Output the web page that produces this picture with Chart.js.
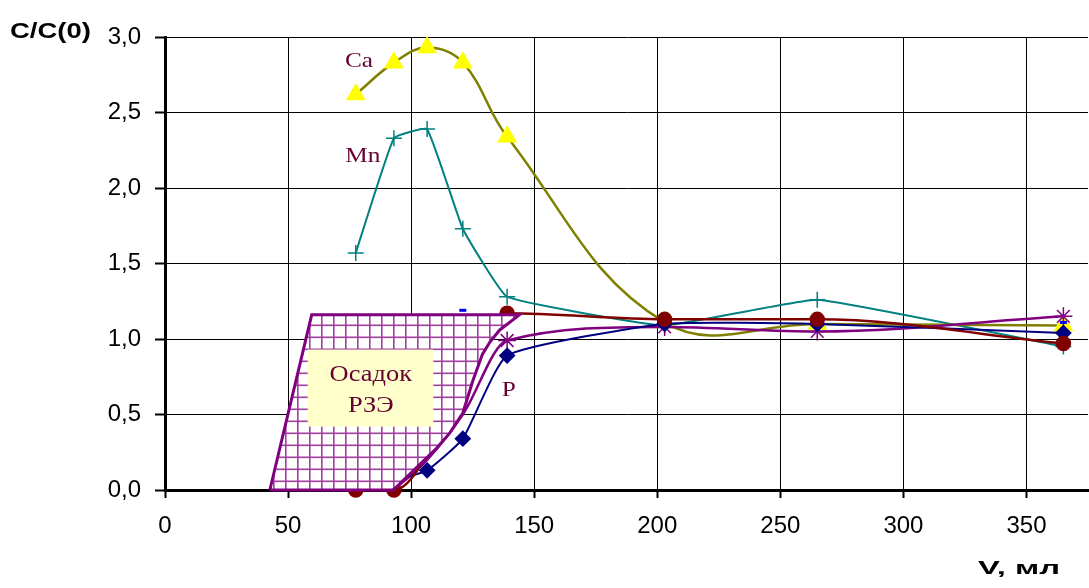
<!DOCTYPE html>
<html>
<head>
<meta charset="utf-8">
<script src="https://cdn.jsdelivr.net/npm/chart.js"></script>
<style>
  body { margin: 0; background: #fff; overflow: hidden; }
  #wrap { width: 1089px; height: 588px; }
  canvas { display: block; }
</style>
</head>
<body>
<div id="wrap"><canvas id="chart" width="1089" height="588"></canvas></div>
<script>
// объём пропущенного раствора, мл
const volumes = [77.5, 93, 106.5, 121, 139, 203, 265, 365];
const caValues = [2.62, 2.83, 2.93, 2.83, 2.34, 1.11, 1.10, 1.09];
const mnValues = [1.57, 2.33, 2.39, 1.73, 1.28, 1.09, 1.26, 0.95];

const pVolumes = [93, 106.5, 121, 139, 203, 265, 365];
const pValues = [0.06, 0.13, 0.34, 0.89, 1.10, 1.10, 1.04];

const redVolumes = [77.5, 93, 139, 203, 265, 365];
const redValues = [0, 0, 1.17, 1.13, 1.13, 0.97];

const purpleVolumes = [93, 106.5, 121, 139, 203, 265, 365];
const purpleValues = [0, 0.20, 0.50, 0.99, 1.08, 1.05, 1.15];

const blueVolumes = [121, 203, 265, 365];
const blueValues = [1.19, 1.13, 1.14, 1.11];

// контур области "Осадок РЗЭ"
const sedimentV = [42.6, 59.6, 144, 136, 132, 129, 125, 121, 115.8, 110.5, 102.3, 94, 92.6, 42.6];
const sedimentC = [0, 1.16, 1.16, 1.06, 0.98, 0.90, 0.72, 0.51, 0.38, 0.28, 0.15, 0.02, 0, 0];

const xTickValues = [0, 50, 100, 150, 200, 250, 300, 350];
const yTickValues = [0, 0.5, 1, 1.5, 2, 2.5, 3];

function pts(xs, ys) {
  return xs.map((x, i) => ({ x: x, y: ys[i] }));
}

// штриховка сеткой
const hatch = document.createElement('canvas');
hatch.width = 12; hatch.height = 12;
const hg = hatch.getContext('2d');
hg.fillStyle = '#fff';
hg.fillRect(0, 0, 12, 12);
hg.fillStyle = '#a040a0';
hg.fillRect(9, 0, 1.6, 12);
hg.fillRect(0, 0.5, 12, 1.6);
const ctx = document.getElementById('chart').getContext('2d');
const hatchPattern = ctx.createPattern(hatch, 'repeat');

function stretchText(c, text, x, y, font, sx, color, align) {
  c.save();
  c.font = font;
  c.fillStyle = color;
  c.textAlign = align || 'center';
  c.textBaseline = 'middle';
  c.translate(x, y);
  c.scale(sx, 1);
  c.fillText(text, 0, 0);
  c.restore();
}

const sedimentFill = {
  id: 'sedimentFill',
  beforeDatasetDraw(chart, args) {
    if (chart.data.datasets[args.index].label !== 'Осадок РЗЭ') return;
    const p = args.meta.data;
    const c = chart.ctx;
    c.save();
    c.beginPath();
    p.forEach((pt, i) => i ? c.lineTo(pt.x, pt.y) : c.moveTo(pt.x, pt.y));
    c.closePath();
    c.fillStyle = hatchPattern;
    c.fill();
    c.restore();
  }
};

const labelColor = '#660033';
const annotations = {
  id: 'annotations',
  afterDatasetsDraw(chart) {
    const c = chart.ctx;
    const xs = chart.scales.x, ys = chart.scales.y;
    // подпись области
    const l = xs.getPixelForValue(58), r = xs.getPixelForValue(109);
    const t = ys.getPixelForValue(0.93), b = ys.getPixelForValue(0.42);
    c.save();
    c.fillStyle = '#ffffcc';
    c.fillRect(l, t, r - l, b - t);
    c.restore();
    const serif = '23px "Liberation Serif", "Times New Roman", serif';
    stretchText(c, 'Осадок', xs.getPixelForValue(83.6), ys.getPixelForValue(0.76), serif, 1.15, labelColor);
    stretchText(c, 'РЗЭ', xs.getPixelForValue(83.6), ys.getPixelForValue(0.555), serif, 1.15, labelColor);
    stretchText(c, 'Ca', xs.getPixelForValue(78.8), ys.getPixelForValue(2.84), '22px "Liberation Serif", serif', 1.15, labelColor);
    stretchText(c, 'Mn', xs.getPixelForValue(80.4), ys.getPixelForValue(2.21), '22px "Liberation Serif", serif', 1.15, labelColor);
    stretchText(c, 'P', xs.getPixelForValue(139.7), ys.getPixelForValue(0.66), '22px "Liberation Serif", serif', 1.15, labelColor);
  },
  afterDraw(chart) {
    const c = chart.ctx;
    stretchText(c, 'C/C(0)', 10, 32, 'bold 22px "Liberation Sans", Arial, sans-serif', 1.25, '#000', 'left');
    c.save();
    c.font = 'bold 19px "Liberation Sans", Arial, sans-serif';
    const w = c.measureText('V, мл').width;
    c.restore();
    stretchText(c, 'V, мл', 978, 569, 'bold 19px "Liberation Sans", Arial, sans-serif', 82 / w, '#000', 'left');
  }
};

Chart.defaults.font.family = '"Liberation Sans", Arial, sans-serif';
Chart.defaults.color = '#000';

new Chart(ctx, {
  type: 'scatter',
  data: {
    datasets: [
      {
        label: 'Осадок РЗЭ',
        data: pts(sedimentV, sedimentC),
        showLine: true,
        borderColor: '#800080',
        borderWidth: 3,
        pointRadius: 0,
        tension: 0,
        clip: false,
        order: 1
      },
      {
        label: 'ряд 4',
        data: pts(redVolumes, redValues),
        showLine: true,
        borderColor: '#800000',
        borderWidth: 2.5,
        pointStyle: 'circle',
        pointRadius: 6.5,
        pointBackgroundColor: '#800000',
        pointBorderColor: '#800000',
        cubicInterpolationMode: 'monotone',
        clip: false,
        order: 2
      },
      {
        label: 'ряд 6',
        data: pts(blueVolumes, blueValues),
        showLine: false,
        pointStyle: 'line',
        pointRadius: 3.5,
        pointBorderWidth: 3,
        pointBorderColor: '#0000ff',
        borderColor: '#0000ff',
        clip: false,
        order: 2
      },
      {
        label: 'P',
        data: pts(pVolumes, pValues),
        showLine: true,
        borderColor: '#000080',
        borderWidth: 2,
        pointStyle: 'rectRot',
        pointRadius: [0, 7, 7, 7, 7, 7, 7],
        pointBackgroundColor: '#000080',
        pointBorderColor: '#000080',
        tension: 0.15,
        clip: false,
        order: 3
      },
      {
        label: 'ряд 5',
        data: pts(purpleVolumes, purpleValues),
        showLine: true,
        borderColor: '#800080',
        borderWidth: 2.5,
        pointStyle: 'star',
        pointRadius: [0, 0, 0, 9, 9, 9, 9],
        pointBorderColor: '#800080',
        pointBorderWidth: 1.5,
        cubicInterpolationMode: 'monotone',
        clip: false,
        order: 4
      },
      {
        label: 'Ca',
        data: pts(volumes, caValues),
        showLine: true,
        borderColor: '#808000',
        borderWidth: 2.5,
        pointStyle: 'triangle',
        pointRadius: 9,
        pointBackgroundColor: '#ffff00',
        pointBorderColor: '#ffff00',
        tension: 0.4,
        clip: false,
        order: 5
      },
      {
        label: 'Mn',
        data: pts(volumes, mnValues),
        showLine: true,
        borderColor: '#008080',
        borderWidth: 2,
        pointStyle: 'cross',
        pointRadius: 8,
        pointBorderColor: '#008080',
        pointBorderWidth: 1.5,
        tension: 0.1,
        clip: false,
        order: 6
      }
    ]
  },
  options: {
    responsive: false,
    animation: false,
    events: [],
    layout: { autoPadding: false, padding: { top: 37, right: 1, left: 0, bottom: 0 } },
    plugins: { legend: { display: false }, tooltip: { enabled: false } },
    scales: {
      x: {
        type: 'linear',
        min: 0,
        max: 375,
        afterBuildTicks: s => { s.ticks = xTickValues.map(v => ({ value: v })); },
        afterFit: s => { s.height = 98; s.paddingLeft = 0; s.paddingRight = 0; },
        ticks: { font: { size: 24 }, color: '#000', padding: 14, maxRotation: 0 },
        grid: { color: '#000', lineWidth: 1, tickLength: 8, tickWidth: 2, tickColor: '#000' },
        border: { color: '#000', width: 3 }
      },
      y: {
        min: 0,
        max: 3,
        afterBuildTicks: s => { s.ticks = yTickValues.map(v => ({ value: v })); },
        afterFit: s => { s.width = 165; s.paddingTop = 0; s.paddingBottom = 0; },
        ticks: {
          font: { size: 24 },
          color: '#000',
          padding: 14,
          callback: v => v.toFixed(1).replace('.', ',')
        },
        grid: { color: '#000', lineWidth: 1, tickLength: 10, tickWidth: 2, tickColor: '#000' },
        border: { color: '#000', width: 3 }
      }
    }
  },
  plugins: [sedimentFill, annotations]
});
</script>
</body>
</html>
